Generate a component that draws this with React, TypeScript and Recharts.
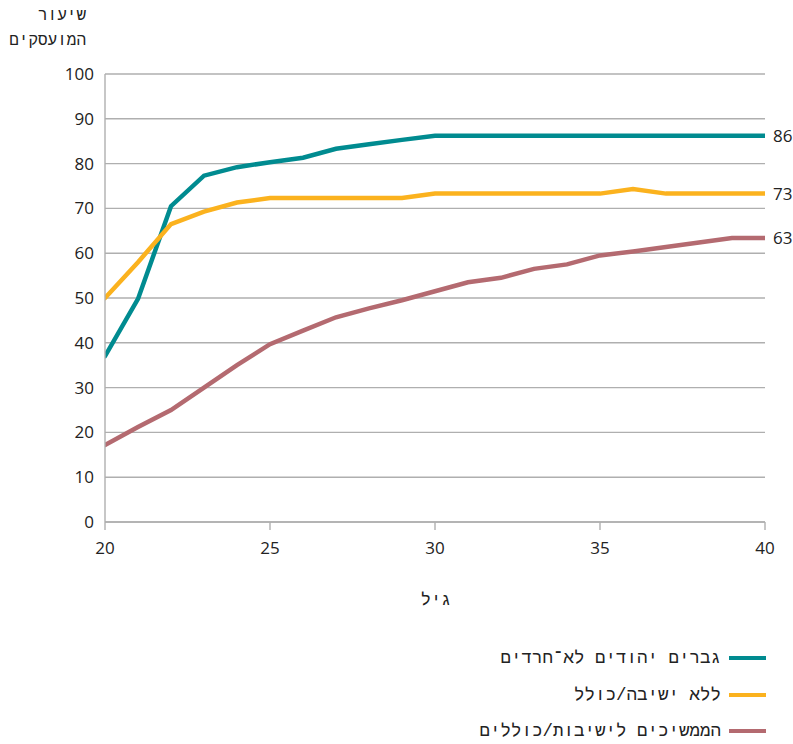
import React from "react";
import { LineChart, Line, XAxis, YAxis, CartesianGrid } from "recharts";

const ages = [20, 21, 22, 23, 24, 25, 26, 27, 28, 29, 30, 31, 32, 33, 34, 35, 36, 37, 38, 39, 40];
const nonHaredi = [37, 49.8, 70.5, 77.3, 79.2, 80.3, 81.3, 83.3, 84.3, 85.3, 86.2, 86.2, 86.2, 86.2, 86.2, 86.2, 86.2, 86.2, 86.2, 86.2, 86.2];
const noYeshiva = [50, 58, 66.5, 69.3, 71.3, 72.3, 72.3, 72.3, 72.3, 72.3, 73.3, 73.3, 73.3, 73.3, 73.3, 73.3, 74.3, 73.3, 73.3, 73.3, 73.3];
const yeshiva = [17.2, 21.2, 25, 30, 35, 39.7, 42.7, 45.7, 47.7, 49.5, 51.5, 53.5, 54.5, 56.5, 57.5, 59.5, 60.4, 61.4, 62.4, 63.4, 63.4];
const endLabels = ["86", "73", "63"];
const yTicks = [0, 10, 20, 30, 40, 50, 60, 70, 80, 90, 100];
const xTicks = [20, 25, 30, 35, 40];
const seriesNames = ["גברים יהודים לא־חרדים", "ללא ישיבה/כולל", "הממשיכים לישיבות/כוללים"];
const colors = ["#008B90", "#FBB21E", "#B46A70"];
const yTitle = ["שיעור", "המועסקים"];
const xTitle = "גיל";

const data = ages.map((a, i) => ({ age: a, s0: nonHaredi[i], s1: noYeshiva[i], s2: yeshiva[i] }));

const numFont = "'Open Sans', sans-serif";
const hebFont = "'Liberation Mono', monospace";

const makeEndLabel = (text: string) => (props: any) => {
  const { x, y, index } = props;
  if (index !== ages.length - 1) return null;
  return (
    <text key={"l" + text} x={x + 8} y={y} dy={6} fontSize={17} fontFamily={numFont} fill="#222">
      {text}
    </text>
  );
};

export default function App() {
  return (
    <div style={{ position: "absolute", left: 0, top: 0, width: 793, height: 744, background: "#fff" }}>
      <LineChart width={793} height={744} data={data} margin={{ top: 74, right: 28, bottom: 0, left: 0 }}>
        <CartesianGrid vertical={false} stroke="#AFAFAF" strokeWidth={1.4} />
        <XAxis
          dataKey="age"
          type="number"
          domain={[20, 40]}
          ticks={xTicks}
          tickSize={8}
          stroke="#AFAFAF"
          strokeWidth={1.4}
          tick={{ fill: "#222", fontSize: 17, fontFamily: numFont }}
          tickMargin={12}
          height={222}
          allowDataOverflow
        />
        <YAxis
          type="number"
          domain={[0, 100]}
          ticks={yTicks}
          width={105}
          tickLine={false}
          stroke="#AFAFAF"
          strokeWidth={1.4}
          tick={{ fill: "#222", fontSize: 17, fontFamily: numFont }}
          tickMargin={5}
          interval={0}
        />
        {["s0", "s1", "s2"].map((k, i) => (
          <Line
            key={k}
            dataKey={k}
            stroke={colors[i]}
            strokeWidth={4.5}
            strokeLinecap="round"
            dot={false}
            isAnimationActive={false}
            label={makeEndLabel(endLabels[i])}
          />
        ))}
      </LineChart>
      <div style={{ position: "absolute", right: 793 - 86, top: 4, direction: "rtl", textAlign: "right", fontFamily: hebFont, fontSize: 16, lineHeight: "25px", color: "#222", whiteSpace: "nowrap" }}>
        <div>{yTitle[0]}</div>
        <div>{yTitle[1]}</div>
      </div>
      <div style={{ position: "absolute", left: 386, width: 100, top: 591, textAlign: "center", direction: "rtl", fontFamily: hebFont, fontSize: 17, color: "#222" }}>
        {xTitle}
      </div>
      {seriesNames.map((n, i) => (
        <div key={n} style={{ position: "absolute", right: 793 - 766, top: 648 + i * 36.5, display: "flex", alignItems: "center", gap: 8, fontFamily: hebFont, fontSize: 17.5, color: "#222", whiteSpace: "nowrap" }}>
          <span style={{ direction: "rtl" }}>{n}</span>
          <span style={{ display: "inline-block", width: 37, height: 4, background: colors[i] }} />
        </div>
      ))}
    </div>
  );
}
